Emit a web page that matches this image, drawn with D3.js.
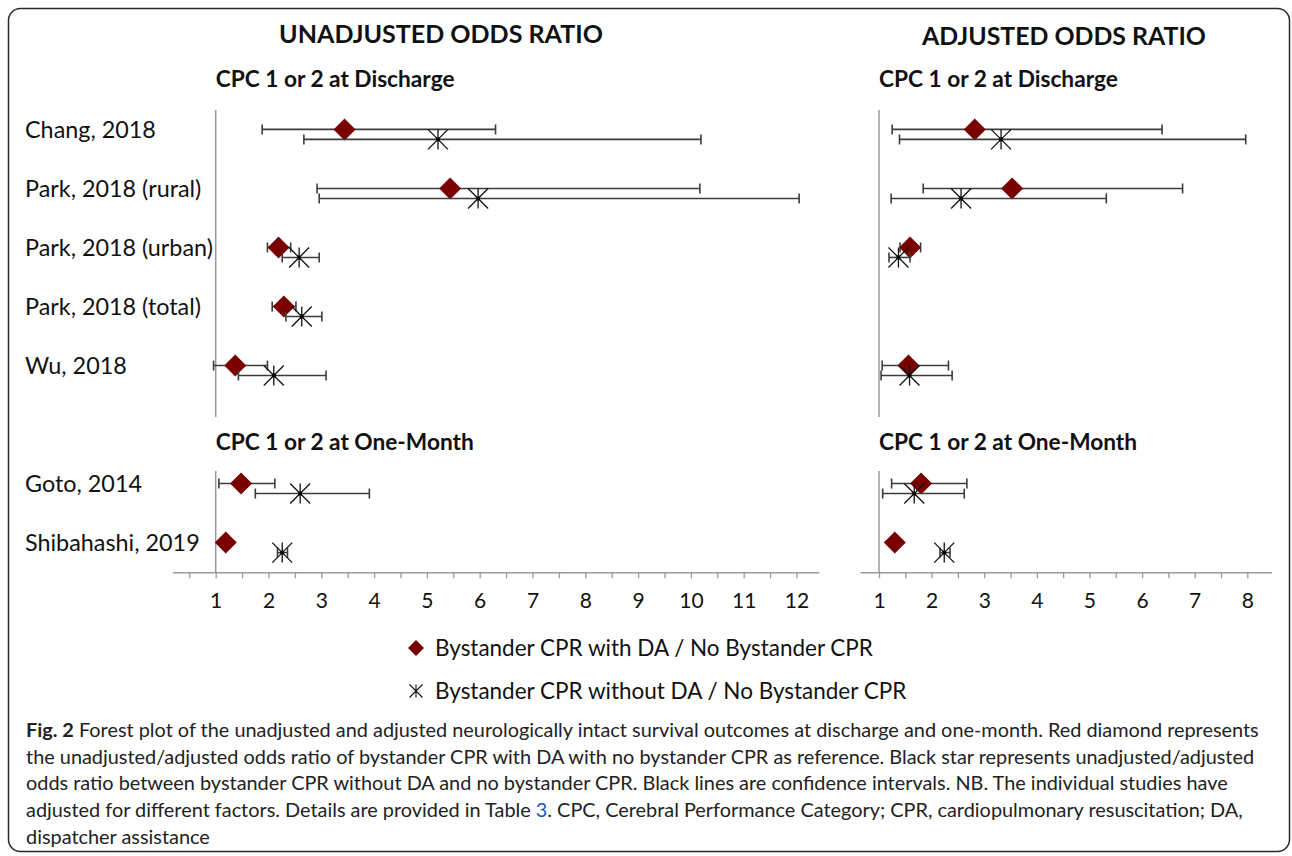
<!DOCTYPE html>
<html><head><meta charset="utf-8">
<script src="https://cdn.jsdelivr.net/npm/d3@7"></script>
<style>html,body{margin:0;padding:0;background:#fff;} svg{display:block;}</style>
</head><body>
<svg id="chart" width="1292" height="856"></svg>
<script>
// ---------------- DATA ----------------
const studies = ["Chang, 2018","Park, 2018 (rural)","Park, 2018 (urban)","Park, 2018 (total)","Wu, 2018","Goto, 2014","Shibahashi, 2019"];
const sections = ["discharge","discharge","discharge","discharge","discharge","onemonth","onemonth"];
const sectionTitles = {discharge:"CPC 1 or 2 at Discharge", onemonth:"CPC 1 or 2 at One-Month"};

// Unadjusted odds ratios
const unadjWithDA     = [3.44, 5.44, 2.19, 2.29, 1.37, 1.48, 1.19];
const unadjWithDALo   = [1.88, 2.92, 1.98, 2.07, 0.96, 1.06, 1.13];
const unadjWithDAHi   = [6.30, 10.17, 2.42, 2.52, 1.98, 2.12, 1.26];
const unadjWithoutDA   = [5.21, 5.97, 2.58, 2.63, 2.10, 2.60, 2.26];
const unadjWithoutDALo = [2.67, 2.96, 2.26, 2.33, 1.43, 1.75, 2.17];
const unadjWithoutDAHi = [10.19, 12.05, 2.96, 3.01, 3.09, 3.91, 2.36];

// Adjusted odds ratios (Park total not reported)
const adjWithDA     = [2.82, 3.53, 1.59, null, 1.56, 1.80, 1.30];
const adjWithDALo   = [1.25, 1.84, 1.40, null, 1.06, 1.24, 1.22];
const adjWithDAHi   = [6.38, 6.77, 1.79, null, 2.32, 2.67, 1.38];
const adjWithoutDA   = [3.32, 2.56, 1.37, null, 1.58, 1.67, 2.24];
const adjWithoutDALo = [1.39, 1.23, 1.19, null, 1.04, 1.07, 2.16];
const adjWithoutDAHi = [7.97, 5.32, 1.59, null, 2.39, 2.62, 2.35];

const ticksLeft = [1,2,3,4,5,6,7,8,9,10,11,12];
const ticksRight = [1,2,3,4,5,6,7,8];
const panelTitles = ["UNADJUSTED ODDS RATIO","ADJUSTED ODDS RATIO"];
const legendLabels = ["Bystander CPR with DA / No Bystander CPR","Bystander CPR without DA / No Bystander CPR"];
const captionLines = [
  [{t:"Fig. 2", b:true},{t:" Forest plot of the unadjusted and adjusted neurologically intact survival outcomes at discharge and one-month. Red diamond represents"}],
  [{t:"the unadjusted/adjusted odds ratio of bystander CPR with DA with no bystander CPR as reference. Black star represents unadjusted/adjusted"}],
  [{t:"odds ratio between bystander CPR without DA and no bystander CPR. Black lines are confidence intervals. NB. The individual studies have"}],
  [{t:"adjusted for different factors. Details are provided in Table "},{t:"3", link:true},{t:". CPC, Cerebral Performance Category; CPR, cardiopulmonary resuscitation; DA,"}],
  [{t:"dispatcher assistance"}]
];

// ---------------- DRAW ----------------
const FONT = "Lato, 'Liberation Sans', sans-serif";
const svg = d3.select("#chart");
const DA_COLOR = "#7a0000";
const CI_COLOR = "#3c3c3c";
const AXIS_COLOR = "#9a9a9a";

function fitText(sel, target){
  const w = sel.node().getComputedTextLength();
  const fs = parseFloat(sel.attr("font-size"));
  const nfs = fs*target/w;
  sel.attr("font-size", nfs);
  return nfs;
}

// outer frame
svg.append("rect").attr("x",8.5).attr("y",8.5).attr("width",1281).attr("height",843)
  .attr("rx",12).attr("fill","none").attr("stroke","#2a2a2a").attr("stroke-width",1.5);

const rowY = d3.scaleLinear().domain([0,7]).range([129.4, 542.6]);
const slot = i => i + (sections[i]==="onemonth" ? 1 : 0);

const panels = [
  {x: d3.scaleLinear().domain([1,12]).range([215.7,796.5]), axisDom:[0.18,12.42], minorStart:0.5, ticks:ticksLeft,
   da:unadjWithDA, daLo:unadjWithDALo, daHi:unadjWithDAHi, nd:unadjWithoutDA, ndLo:unadjWithoutDALo, ndHi:unadjWithoutDAHi,
   title:panelTitles[0], titleX:441, titleW:324, titleY:43},
  {x: d3.scaleLinear().domain([1,8]).range([879,1247.3]), axisDom:[0.64,8.46], minorStart:1, ticks:ticksRight,
   da:adjWithDA, daLo:adjWithDALo, daHi:adjWithDAHi, nd:adjWithoutDA, ndLo:adjWithoutDALo, ndHi:adjWithoutDAHi,
   title:panelTitles[1], titleX:1064, titleW:284, titleY:44.5}
];

const diamondPath = r => `M0,${-r}L${r},0L0,${r}L${-r},0Z`;
const starPath = r => `M0,${-r}V${r}M${-r},${-r}L${r},${r}M${r},${-r}L${-r},${r}`;

const axisY = 572.3;

panels.forEach(p => {
  const g = svg.append("g");
  const x = p.x;
  // panel title
  const t = g.append("text").attr("x",p.titleX).attr("y",p.titleY).attr("text-anchor","middle")
    .attr("font-family",FONT).attr("font-weight","bold").attr("font-size",26).attr("fill","#111").text(p.title);
  fitText(t, p.titleW);
  // section titles
  const s1 = g.append("text").attr("x",x(1)).attr("y",87).attr("font-family",FONT).attr("font-weight","bold")
    .attr("font-size",22).attr("fill","#111").text(sectionTitles.discharge);
  const sfs = fitText(s1, 239);
  g.append("text").attr("x",x(1)).attr("y",450).attr("font-family",FONT).attr("font-weight","bold")
    .attr("font-size",sfs).attr("fill","#111").text(sectionTitles.onemonth);

  // vertical reference lines at OR = 1
  g.append("line").attr("x1",x(1)).attr("x2",x(1)).attr("y1",110).attr("y2",417)
    .attr("stroke",AXIS_COLOR).attr("stroke-width",1.5);
  g.append("line").attr("x1",x(1)).attr("x2",x(1)).attr("y1",471).attr("y2",axisY)
    .attr("stroke",AXIS_COLOR).attr("stroke-width",1.5);

  // bottom axis
  const axScale = x.copy().domain(p.axisDom).range(p.axisDom.map(x));
  const tickVals = d3.range(p.minorStart, p.axisDom[1]+0.001, 0.5);
  const axis = d3.axisBottom(axScale).tickValues(tickVals).tickSize(6).tickSizeOuter(0).tickPadding(15)
    .tickFormat(v => p.ticks.includes(v) ? String(v) : "");
  const ag = g.append("g").attr("transform",`translate(0,${axisY})`).call(axis);
  ag.select(".domain").attr("stroke",AXIS_COLOR).attr("stroke-width",1.5);
  ag.selectAll(".tick line").attr("stroke",AXIS_COLOR).attr("stroke-width",1.3);
  ag.selectAll(".tick text").attr("font-family",FONT).attr("font-size",21).attr("fill","#111");

  const idx = d3.range(studies.length).filter(i => p.da[i] !== null);

  function ci(lo, hi, dy){
    const cg = g.append("g");
    idx.forEach(i => {
      const y = rowY(slot(i)) + dy;
      cg.append("line").attr("x1",x(lo[i])).attr("x2",x(hi[i])).attr("y1",y).attr("y2",y)
        .attr("stroke",CI_COLOR).attr("stroke-width",1.6);
      [lo[i],hi[i]].forEach(v => cg.append("line").attr("x1",x(v)).attr("x2",x(v)).attr("y1",y-5).attr("y2",y+5)
        .attr("stroke",CI_COLOR).attr("stroke-width",1.6));
    });
  }
  // with DA: CI + diamonds
  ci(p.daLo, p.daHi, 0);
  g.selectAll("path.dia").data(idx).join("path").attr("class","dia")
    .attr("transform", i => `translate(${x(p.da[i])},${rowY(slot(i))})`)
    .attr("d", diamondPath(11)).attr("fill",DA_COLOR);
  // without DA: CI + stars
  ci(p.ndLo, p.ndHi, 10);
  const sg = g.selectAll("g.star").data(idx).join("g").attr("class","star")
    .attr("transform", i => `translate(${x(p.nd[i])},${rowY(slot(i))+10})`);
  sg.append("path").attr("d", starPath(10)).attr("stroke","#111").attr("stroke-width",1.3).attr("fill","none");
  sg.append("rect").attr("x",-1.8).attr("y",-1.8).attr("width",3.6).attr("height",3.6).attr("fill","#000");
});

// row labels
const lab = svg.append("g").selectAll("text").data(studies).join("text")
  .attr("x",25).attr("y",(d,i) => rowY(slot(i)) + 8.5)
  .attr("font-family",FONT).attr("font-size",22).attr("fill","#111").text(d => d);
const refLab = lab.filter(d => d === "Park, 2018 (urban)");
const lfs = fitText(refLab, 188);
lab.attr("font-size", lfs);

// legend
const lg = svg.append("g");
lg.append("path").attr("transform","translate(416,648)").attr("d",diamondPath(8)).attr("fill",DA_COLOR);
const ls = lg.append("g").attr("transform","translate(416,691)");
ls.append("path").attr("d",starPath(6.5)).attr("stroke","#111").attr("stroke-width",1.1).attr("fill","none");
const l1 = lg.append("text").attr("x",435).attr("y",656).attr("font-family",FONT).attr("font-size",22).attr("fill","#111").text(legendLabels[0]);
const lgfs = fitText(l1, 438);
lg.append("text").attr("x",435).attr("y",699).attr("font-family",FONT).attr("font-size",lgfs).attr("fill","#111").text(legendLabels[1]);

// caption
const cap = svg.append("g");
let capFs = 18;
captionLines.forEach((line, li) => {
  const t = cap.append("text").attr("x",26).attr("y",737 + li*26.7).attr("font-family",FONT)
    .attr("font-size",capFs).attr("fill","#222");
  line.forEach(seg => {
    t.append("tspan").attr("font-weight", seg.b ? "bold" : null).attr("fill", seg.link ? "#1a56c4" : null).text(seg.t);
  });
  if (li === 0) { capFs = fitText(t, 1234); }
});
</script>
</body></html>
